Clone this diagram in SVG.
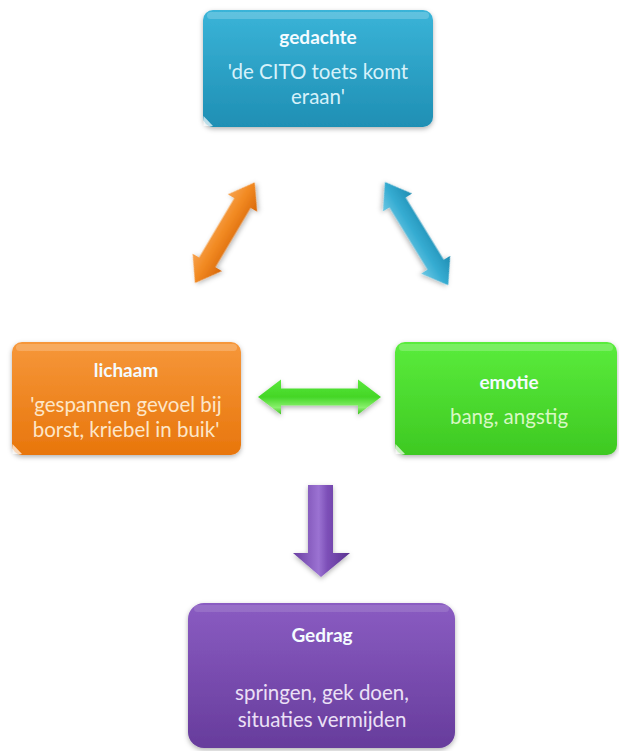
<svg xmlns="http://www.w3.org/2000/svg" width="619" height="751" viewBox="0 0 619 751">
<defs>
<linearGradient id="gBlue" x1="0" y1="0" x2="0" y2="1"><stop offset="0" stop-color="#3ab4d8"/><stop offset="1" stop-color="#1f8fb4"/></linearGradient>
<linearGradient id="gOrange" x1="0" y1="0" x2="0" y2="1"><stop offset="0" stop-color="#f6973a"/><stop offset="1" stop-color="#e8760c"/></linearGradient>
<linearGradient id="gGreen" x1="0" y1="0" x2="0" y2="1"><stop offset="0" stop-color="#5aec3c"/><stop offset="1" stop-color="#3ec922"/></linearGradient>
<linearGradient id="gPurple" x1="0" y1="0" x2="0" y2="1"><stop offset="0" stop-color="#8a5cc2"/><stop offset="1" stop-color="#673c9c"/></linearGradient>
<linearGradient id="aOrange" x1="0" y1="0" x2="0" y2="1"><stop offset="0" stop-color="#f7a350"/><stop offset="0.45" stop-color="#f28a22"/><stop offset="1" stop-color="#d8680a"/></linearGradient>
<linearGradient id="aBlue" x1="0" y1="0" x2="0" y2="1"><stop offset="0" stop-color="#1f8db2"/><stop offset="0.55" stop-color="#36acd2"/><stop offset="1" stop-color="#6cc8e4"/></linearGradient>
<linearGradient id="aGreen" x1="0" y1="0" x2="0" y2="1"><stop offset="0" stop-color="#5ae83c"/><stop offset="0.5" stop-color="#44d626"/><stop offset="0.8" stop-color="#8af06e"/><stop offset="1" stop-color="#3cc020"/></linearGradient>
<linearGradient id="aPurple" x1="0" y1="0" x2="1" y2="0"><stop offset="0" stop-color="#6a3fa2"/><stop offset="0.45" stop-color="#9b72d2"/><stop offset="0.6" stop-color="#7d50b8"/><stop offset="1" stop-color="#5a3190"/></linearGradient>
<filter id="sh" x="-10%" y="-10%" width="120%" height="130%"><feDropShadow dx="0" dy="2" stdDeviation="2.5" flood-color="#000" flood-opacity="0.3"/></filter>
</defs>
<style>
.box{filter:url(#sh)}
.shine{fill:#ffffff;opacity:0.2}
.curl{fill:#ffffff;opacity:0.7}
.t{font-family:Lato,"Open Sans","Liberation Sans",sans-serif;text-anchor:middle}
.title{font-size:19px;font-weight:bold;fill:#f4fbff}
.body{font-size:20.5px}
</style>
<g id="connectors">
<polygon filter="url(#sh)" fill="url(#aOrange)" transform="translate(195,283) rotate(-59.3)" points="0,0 24,-17 24,-9.5 93,-9.5 93,-17 117,0 93,17 93,9.5 24,9.5 24,17"/>
<polygon filter="url(#sh)" fill="url(#aBlue)" transform="translate(385,182) rotate(58.5)" points="0,0 24,-17 24,-9.5 97,-9.5 97,-17 121,0 97,17 97,9.5 24,9.5 24,17"/>
<polygon filter="url(#sh)" fill="url(#aGreen)" transform="translate(258,397)" points="0,0 23,-17.5 23,-8.5 100,-8.5 100,-17.5 123,0 100,17.5 100,8.5 23,8.5 23,17.5"/>
<polygon filter="url(#sh)" fill="url(#aPurple)" points="308,485 333,485 333,553 350,553 321,577 293,553 308,553"/>
</g>
<g id="gedachte">
<rect class="box" x="203" y="10" width="230" height="117" rx="10" fill="url(#gBlue)"/>
<rect class="shine" x="207" y="12" width="222" height="7" rx="3.5"/>
<path class="curl" d="M203.5,116 L203.5,126 L213,126 Z"/>
<text class="t title" x="318" y="44">gedachte</text>
<text class="t body" fill="#d6f1fa" x="318" y="79">'de CITO toets komt</text>
<text class="t body" fill="#d6f1fa" x="318" y="104">eraan'</text>
</g>
<g id="lichaam">
<rect class="box" x="12" y="342" width="229" height="113" rx="10" fill="url(#gOrange)"/>
<rect class="shine" x="16" y="344" width="221" height="7" rx="3.5"/>
<path class="curl" d="M12.5,444 L12.5,454 L22,454 Z"/>
<text class="t title" x="126" y="377">lichaam</text>
<text class="t body" fill="#fde6c8" x="126" y="412">'gespannen gevoel bij</text>
<text class="t body" fill="#fde6c8" x="126" y="437">borst, kriebel in buik'</text>
</g>
<g id="emotie">
<rect class="box" x="395" y="342" width="222" height="113" rx="10" fill="url(#gGreen)"/>
<rect class="shine" x="399" y="344" width="214" height="7" rx="3.5"/>
<path class="curl" d="M395.5,444 L395.5,454 L405,454 Z"/>
<text class="t title" x="509" y="389">emotie</text>
<text class="t body" fill="#d8f8c4" x="509" y="424">bang, angstig</text>
</g>
<g id="gedrag">
<rect class="box" x="188" y="603" width="267" height="145" rx="16" fill="url(#gPurple)"/>
<rect class="shine" x="194" y="605" width="255" height="7" rx="3.5" style="opacity:0.12"/>
<text class="t title" x="322" y="642">Gedrag</text>
<text class="t body" fill="#ebe0f6" x="322" y="700">springen, gek doen,</text>
<text class="t body" fill="#ebe0f6" x="322" y="727">situaties vermijden</text>
</g>
</svg>
